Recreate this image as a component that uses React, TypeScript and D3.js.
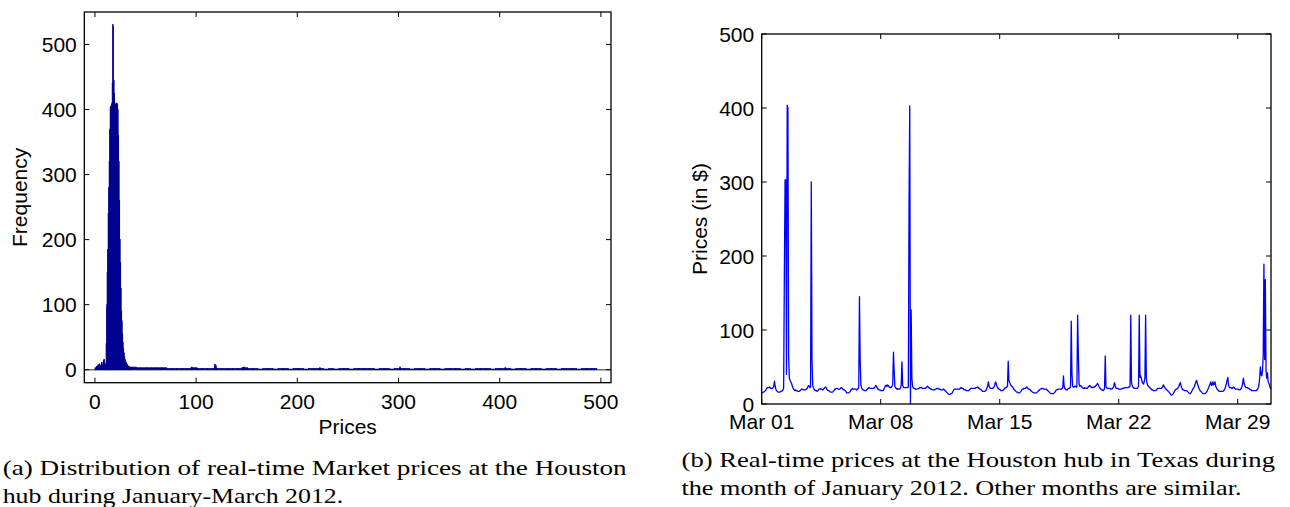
import React from 'react';
import * as d3 from 'd3';

// ---------- (a) histogram data ----------
const histBinWidth = 0.5; // $ per core bin
const histCoreStart = 0;
const histCoreCounts = [
  3, 2, 4, 5, 3, 6, 8, 4, 5, 9, 6, 4, 7, 11, 8, 5, 12, 15, 16, 10, 7, 9,
  40, 100, 150, 185, 240, 280, 320, 370, 404, 405, 406, 410, 440, 531, 528, 445,
  425, 410, 408, 405, 410, 408, 409, 400, 360, 320, 260, 200, 165, 125, 90, 75,
  55, 42, 32, 26, 20, 16, 14, 11, 10, 8, 7, 6, 5, 5, 4, 4, 3, 3,
];
const tailBucketStart = 36;
const tailBucketWidth = 5;
const tailBucketCounts = [
  4, 3, 3, 3, 3, 3, 3, 2, 2, 2, 2, 2, 3, 2, 2, 2, 2, 2, 2, 2, 2, 2, 3, 2, 2, 1,
  2, 2, 1, 2, 2, 1, 2, 2, 1, 2, 2, 2, 1, 2, 1, 2, 2, 1, 2, 2, 2, 2, 1, 2, 2, 1,
  2, 2, 2, 1, 2, 2, 1, 2, 2, 1, 2, 2, 2, 1, 2, 1, 2, 2, 2, 1, 2, 2, 2, 1, 2, 2,
  1, 2, 2, 1, 2, 2, 1, 2, 2, 2, 1, 2, 2, 2,
];
const tailSpikePrices = [95, 118, 119, 145, 147, 222, 301, 405];
const tailSpikeCounts = [4, 8, 6, 3, 4, 3, 4, 3];
const priceTicks = [0, 100, 200, 300, 400, 500];
const freqTicks = [0, 100, 200, 300, 400, 500];

// ---------- (b) hourly prices, March 2012 ----------
const hourlyPrices: number[][] = [
  [15, 15, 16, 16, 17, 18, 19, 21, 22, 22, 22, 23, 22, 21, 21, 21, 22, 24, 31, 24, 20, 18, 17, 16],
  [16, 16, 16, 17, 17, 18, 19, 22, 177, 303, 303, 40, 404, 400, 65, 35, 32, 30, 28, 25, 22, 20, 19, 18],
  [19, 18, 18, 17, 17, 17, 18, 19, 20, 20, 20, 19, 19, 19, 19, 20, 21, 23, 25, 24, 22, 23, 300, 62],
  [25, 22, 20, 19, 18, 18, 17, 18, 19, 20, 20, 21, 20, 20, 19, 20, 21, 22, 23, 22, 20, 19, 18, 18],
  [17, 16, 16, 16, 16, 17, 18, 20, 20, 21, 21, 21, 20, 20, 20, 21, 22, 22, 21, 20, 19, 19, 18, 17],
  [15, 15, 15, 15, 16, 17, 19, 20, 21, 20, 20, 20, 20, 20, 19, 20, 21, 22, 145, 60, 26, 22, 20, 19],
  [19, 18, 18, 18, 19, 20, 21, 22, 22, 21, 21, 21, 21, 21, 21, 22, 23, 25, 24, 22, 20, 20, 19, 19],
  [18, 18, 18, 18, 19, 21, 23, 25, 24, 26, 24, 25, 23, 22, 22, 23, 24, 26, 70, 45, 24, 22, 21, 20],
  [21, 20, 20, 20, 22, 26, 57, 25, 23, 22, 22, 22, 22, 22, 22, 23, 268, 403, 0, 127, 35, 24, 22, 21],
  [21, 20, 20, 20, 20, 21, 21, 22, 22, 22, 22, 21, 21, 21, 21, 21, 22, 23, 24, 23, 22, 21, 21, 20],
  [20, 19, 19, 19, 19, 20, 20, 21, 21, 21, 20, 20, 20, 19, 19, 19, 20, 20, 19, 18, 17, 16, 15, 14],
  [13, 13, 13, 14, 14, 15, 17, 19, 20, 20, 20, 20, 20, 20, 20, 20, 21, 22, 22, 21, 21, 20, 19, 19],
  [19, 18, 18, 18, 18, 19, 20, 21, 21, 21, 21, 21, 21, 21, 22, 22, 22, 23, 22, 21, 20, 20, 19, 18],
  [17, 17, 17, 17, 18, 19, 22, 24, 30, 24, 22, 21, 21, 21, 21, 22, 23, 26, 30, 28, 24, 22, 21, 20],
  [20, 19, 18, 18, 18, 19, 20, 21, 22, 22, 23, 24, 58, 32, 29, 27, 25, 24, 23, 22, 20, 19, 18, 17],
  [16, 16, 15, 15, 15, 16, 17, 19, 20, 20, 21, 21, 21, 22, 23, 22, 21, 20, 20, 19, 18, 17, 16, 16],
  [15, 15, 15, 15, 15, 16, 17, 18, 19, 20, 20, 21, 21, 21, 20, 20, 20, 20, 20, 19, 18, 17, 16, 15],
  [14, 14, 14, 14, 14, 15, 16, 18, 19, 19, 20, 20, 20, 20, 20, 20, 21, 22, 38, 24, 21, 20, 19, 19],
  [20, 21, 21, 22, 23, 112, 40, 24, 23, 23, 24, 24, 23, 23, 120, 69, 28, 24, 25, 24, 23, 22, 21, 21],
  [22, 21, 21, 21, 22, 23, 24, 25, 24, 23, 22, 22, 23, 23, 23, 24, 25, 26, 28, 26, 24, 22, 21, 20],
  [19, 19, 18, 19, 21, 65, 24, 22, 21, 21, 21, 21, 21, 20, 20, 21, 22, 24, 29, 25, 22, 21, 21, 21],
  [20, 20, 20, 20, 20, 21, 21, 21, 22, 22, 22, 22, 22, 22, 23, 23, 24, 120, 30, 25, 23, 22, 21, 21],
  [21, 21, 21, 22, 24, 120, 36, 38, 35, 30, 28, 27, 30, 35, 120, 35, 28, 25, 24, 23, 22, 21, 20, 19],
  [19, 18, 18, 18, 18, 19, 20, 21, 21, 21, 21, 21, 21, 22, 23, 26, 24, 22, 21, 20, 19, 18, 17, 16],
  [15, 13, 12, 12, 13, 14, 16, 18, 19, 20, 20, 21, 22, 24, 27, 29, 25, 22, 20, 19, 19, 18, 18, 18],
  [18, 17, 16, 15, 14, 14, 15, 17, 19, 21, 22, 24, 27, 30, 32, 28, 25, 22, 20, 18, 17, 16, 15, 14],
  [14, 14, 14, 15, 16, 18, 20, 22, 25, 27, 30, 25, 26, 30, 26, 27, 30, 24, 22, 20, 19, 18, 17, 17],
  [17, 17, 17, 17, 18, 19, 21, 24, 28, 32, 36, 26, 23, 22, 22, 22, 21, 22, 23, 22, 21, 20, 20, 20],
  [20, 20, 19, 19, 20, 21, 24, 28, 35, 28, 25, 23, 22, 22, 22, 21, 21, 20, 19, 19, 18, 18, 18, 18],
  [18, 18, 18, 19, 20, 22, 26, 35, 50, 40, 38, 45, 66, 189, 60, 168, 45, 35, 42, 30, 28, 25, 22, 20],
];
const dateTickLabels = ['2012-03-01', '2012-03-08', '2012-03-15', '2012-03-22', '2012-03-29'];
const priceAxisTicks = [0, 100, 200, 300, 400, 500];

const captionA = [
  '(a) Distribution of real-time Market prices at the Houston',
  'hub during January-March 2012.',
];
const captionB = [
  '(b) Real-time prices at the Houston hub in Texas during',
  'the month of January 2012. Other months are similar.',
];

const SANS = '"Liberation Sans", Arial, Helvetica, sans-serif';
const SERIF = '"Liberation Serif", "Times New Roman", serif';
const NAVY = '#00008f';
const TICK = 5;

export default function App() {
  // ----- panel (a) -----
  const ax = { l: 84.3, r: 611, t: 12, b: 382.7 };
  const xH = d3.scaleLinear().domain([-10.5, 510]).range([ax.l, ax.r]);
  const yH = d3.scaleLinear().domain([-20, 550]).range([ax.b, ax.t]);

  const coreBins = histCoreCounts.map((c, i) => ({
    x0: histCoreStart + i * histBinWidth,
    x1: histCoreStart + (i + 1) * histBinWidth,
    c,
  }));
  const tailBins = tailBucketCounts.map((c, i) => ({
    x0: tailBucketStart + i * tailBucketWidth,
    x1: tailBucketStart + (i + 1) * tailBucketWidth,
    c,
  }));
  const spikeBins = tailSpikePrices.map((p, i) => ({ x0: p, x1: p + 1, c: tailSpikeCounts[i] }));
  const allBins = [...tailBins, ...spikeBins, ...coreBins];

  // ----- panel (b) -----
  const bx = { l: 761.7, r: 1271, t: 34, b: 404 };
  const start = Date.UTC(2012, 2, 1, 0);
  const series: { t: Date; v: number }[] = [];
  hourlyPrices.forEach((day, d) =>
    day.forEach((v, h) => series.push({ t: new Date(start + (d * 24 + h) * 3600e3), v }))
  );
  const xT = d3
    .scaleUtc()
    .domain(d3.extent(series, (s) => s.t) as [Date, Date])
    .range([bx.l, bx.r]);
  const yP = d3.scaleLinear().domain([0, 500]).range([bx.b, bx.t]);
  const line = d3
    .line<{ t: Date; v: number }>()
    .x((s) => xT(s.t))
    .y((s) => yP(s.v));
  const dateTicks = dateTickLabels.map((s) => new Date(s + 'T00:00:00Z'));
  const fmt = d3.utcFormat('%b %d');

  const axisText = { fontFamily: SANS, fontSize: 21, fill: '#000' } as const;

  return (
    <svg
      width={1290}
      height={507}
      style={{ position: 'absolute', left: 0, top: 0, background: '#fff' }}
    >
      <rect x={0} y={0} width={1290} height={507} fill="#fff" />

      {/* ===== Panel (a) ===== */}
      <line x1={ax.l} x2={ax.r} y1={yH(0)} y2={yH(0)} stroke="#707070" strokeWidth={1.6} />
      <g fill={NAVY} stroke={NAVY} strokeWidth={0.7}>
        {allBins.map((b, i) => (
          <rect
            key={i}
            x={xH(b.x0)}
            width={Math.max(0.01, xH(b.x1) - xH(b.x0))}
            y={yH(b.c)}
            height={yH(0) - yH(b.c)}
          />
        ))}
      </g>
      <rect x={ax.l} y={ax.t} width={ax.r - ax.l} height={ax.b - ax.t} fill="none" stroke="#000" strokeWidth={1.3} />
      {priceTicks.map((t) => (
        <g key={'xa' + t}>
          <line x1={xH(t)} x2={xH(t)} y1={ax.b} y2={ax.b - TICK} stroke="#000" />
          <line x1={xH(t)} x2={xH(t)} y1={ax.t} y2={ax.t + TICK} stroke="#000" />
          <text x={xH(t)} y={ax.b + 25.8} textAnchor="middle" {...axisText}>
            {t}
          </text>
        </g>
      ))}
      {freqTicks.map((t) => (
        <g key={'ya' + t}>
          <line x1={ax.l} x2={ax.l + TICK} y1={yH(t)} y2={yH(t)} stroke="#000" />
          <line x1={ax.r} x2={ax.r - TICK} y1={yH(t)} y2={yH(t)} stroke="#000" />
          <text x={ax.l - 7.5} y={yH(t)} dy="0.36em" textAnchor="end" {...axisText}>
            {t}
          </text>
        </g>
      ))}
      <text x={(ax.l + ax.r) / 2} y={434} textAnchor="middle" {...axisText}>
        Prices
      </text>
      <text
        transform={`translate(26.7, ${(ax.t + ax.b) / 2}) rotate(-90)`}
        textAnchor="middle"
        {...axisText}
      >
        Frequency
      </text>

      {/* ===== Panel (b) ===== */}
      <path d={line(series) || ''} fill="none" stroke="#0000ff" strokeWidth={1.3} strokeLinejoin="round" />
      <rect x={bx.l} y={bx.t} width={bx.r - bx.l} height={bx.b - bx.t} fill="none" stroke="#000" strokeWidth={1.3} />
      {dateTicks.map((d, i) => (
        <g key={'xb' + i}>
          <line x1={xT(d)} x2={xT(d)} y1={bx.b} y2={bx.b - TICK} stroke="#000" />
          <line x1={xT(d)} x2={xT(d)} y1={bx.t} y2={bx.t + TICK} stroke="#000" />
          <text x={xT(d)} y={bx.b + 25} textAnchor="middle" {...axisText}>
            {fmt(d)}
          </text>
        </g>
      ))}
      {priceAxisTicks.map((t) => (
        <g key={'yb' + t}>
          <line x1={bx.l} x2={bx.l + TICK} y1={yP(t)} y2={yP(t)} stroke="#000" />
          <line x1={bx.r} x2={bx.r - TICK} y1={yP(t)} y2={yP(t)} stroke="#000" />
          <text x={bx.l - 7.5} y={yP(t)} dy="0.36em" textAnchor="end" {...axisText}>
            {t}
          </text>
        </g>
      ))}
      <text
        transform={`translate(707.3, ${(bx.t + bx.b) / 2}) rotate(-90)`}
        textAnchor="middle"
        {...axisText}
      >
        Prices (in $)
      </text>

      {/* ===== Captions ===== */}
      <g fontFamily={SERIF} fontSize={22} fill="#000">
        <text x={2.7} y={475} textLength={624} lengthAdjust="spacingAndGlyphs">
          {captionA[0]}
        </text>
        <text x={2.7} y={502.5} textLength={340.6} lengthAdjust="spacingAndGlyphs">
          {captionA[1]}
        </text>
        <text x={681.5} y={467} textLength={593.5} lengthAdjust="spacingAndGlyphs">
          {captionB[0]}
        </text>
        <text x={681.5} y={494.5} textLength={560} lengthAdjust="spacingAndGlyphs">
          {captionB[1]}
        </text>
      </g>
    </svg>
  );
}
